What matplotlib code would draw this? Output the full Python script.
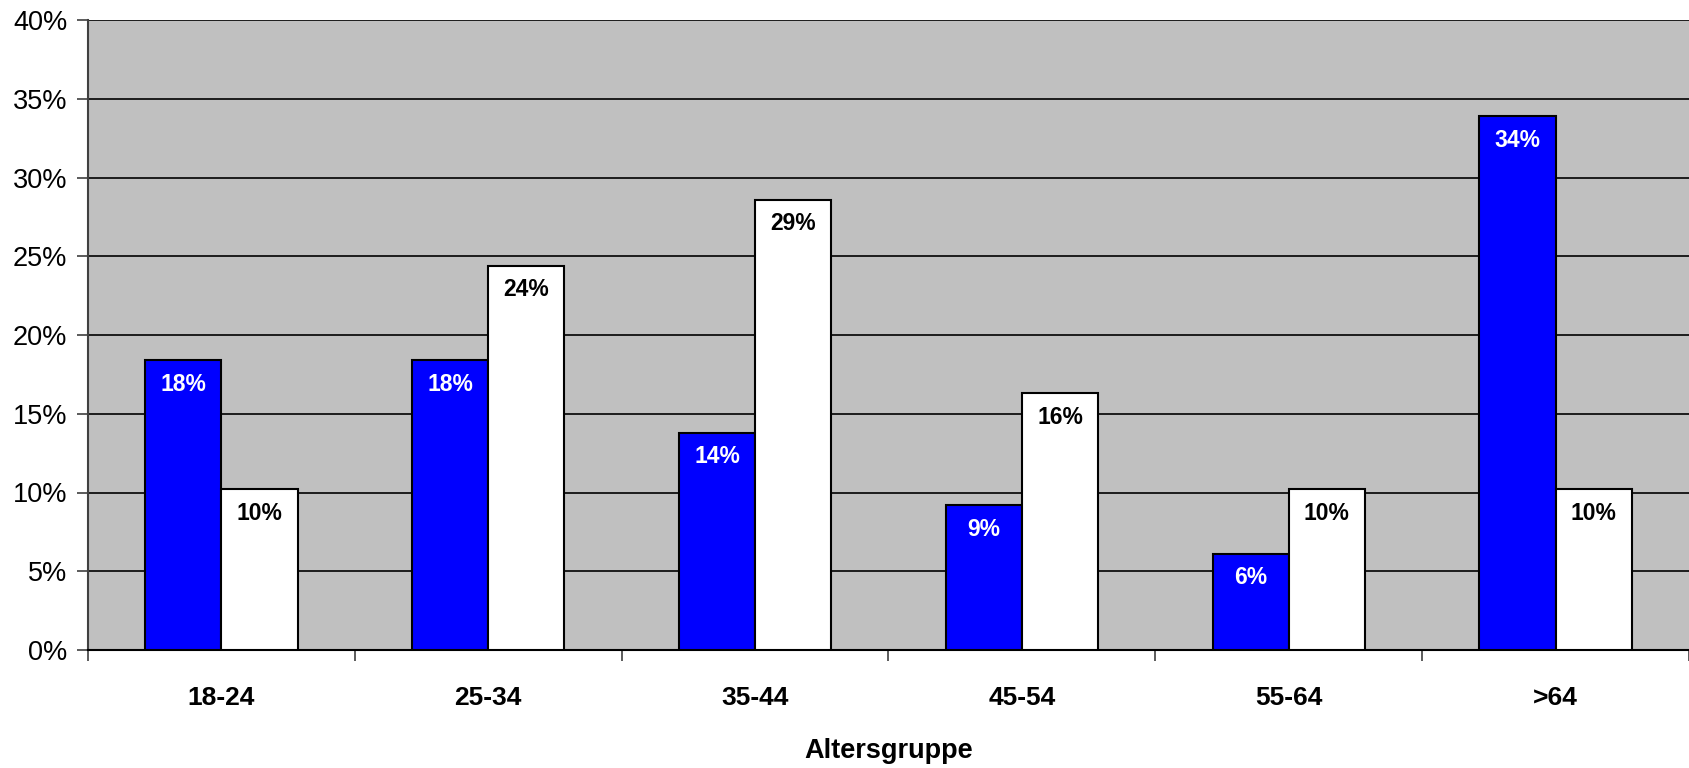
import matplotlib.pyplot as plt
import numpy as np

plt.rcParams['font.family'] = ['Liberation Sans', 'DejaVu Sans']

groups = ['18-24', '25-34', '35-44', '45-54', '55-64', '>64']
blue_vals = [18.4, 18.4, 13.8, 9.2, 6.1, 33.9]
white_vals = [10.2, 24.4, 28.6, 16.3, 10.2, 10.2]
y_ticks = [0, 5, 10, 15, 20, 25, 30, 35, 40]

fig = plt.figure(figsize=(16.89, 7.68), dpi=100)
ax = fig.add_axes([88 / 1689, 1 - 650 / 768, 1 - 88 / 1689, (650 - 20) / 768])
ax.set_facecolor('#C0C0C0')

x = np.arange(len(groups))
w = 1 / 3.5  # gap width 150%

b1 = ax.bar(x - w / 2, blue_vals, w, color='#0000FF', edgecolor='black', linewidth=1.5, zorder=3)
b2 = ax.bar(x + w / 2, white_vals, w, color='white', edgecolor='black', linewidth=1.5, zorder=3)

for bars, vals, col in [(b1, blue_vals, 'white'), (b2, white_vals, 'black')]:
    for bar, v in zip(bars, vals):
        ax.annotate('%.0f%%' % v, (bar.get_x() + bar.get_width() / 2, v),
                    xytext=(0, -24), textcoords='offset pixels',
                    ha='center', va='center', fontsize=16.5, fontweight='bold',
                    color=col, zorder=4)

ax.set_xlim(-0.5, len(groups) - 0.5)
ax.set_ylim(0, 40)
ax.set_yticks(y_ticks)
ax.set_yticklabels(['%d%%' % t for t in y_ticks], fontsize=19.5)
ax.yaxis.grid(True, color='black', linewidth=1.2, zorder=1)
ax.set_axisbelow(True)

# group labels centred, tick marks between groups
ax.set_xticks(x)
ax.set_xticklabels(groups, fontsize=19, fontweight='bold')
ax.tick_params(axis='x', length=0, pad=26)
ax.set_xticks(np.arange(len(groups) + 1) - 0.5, minor=True)
ax.tick_params(axis='x', which='minor', length=8, width=1.2, color='#404040', direction='out')
ax.tick_params(axis='y', length=8, width=1.2, color='#404040', direction='out', pad=7)

ax.set_xlabel('Altersgruppe', fontsize=19.5, fontweight='bold', labelpad=20)

ax.spines['top'].set_visible(False)
ax.spines['right'].set_visible(False)
ax.spines['left'].set_color('#404040')
ax.spines['left'].set_linewidth(1.5)
ax.spines['bottom'].set_color('black')
ax.spines['bottom'].set_linewidth(1.5)

fig.savefig('out.png', dpi=100)
